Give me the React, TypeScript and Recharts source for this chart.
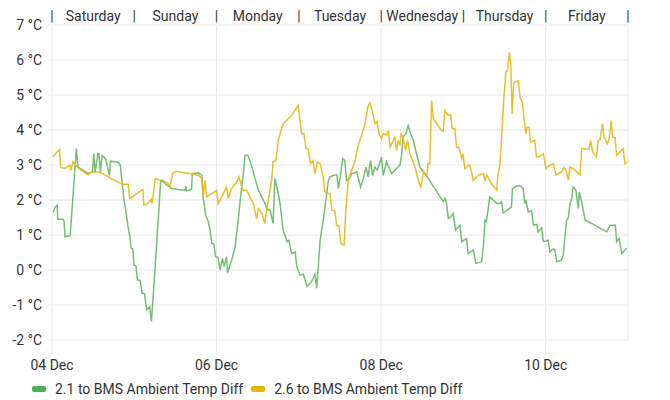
import React from "react";
import { LineChart, Line, XAxis, YAxis, CartesianGrid } from "recharts";

// hours since 04 Dec 00:00, value in °C
const greenSeries: [number, number][] = [
  [0.3, 1.66], [1.0, 1.8], [1.5, 1.85], [1.7, 1.45], [3.2, 1.45], [3.5, 1.4], [3.8, 0.95], [5.3, 0.98],
  [7.1, 3.47], [7.6, 2.94], [10.5, 2.76], [11.8, 2.8], [12.2, 3.32], [12.6, 2.8], [13.4, 3.32], [13.7, 3.32],
  [14.1, 2.8], [14.6, 3.27], [15.4, 3.2], [15.7, 3.15], [16.8, 2.7], [17.0, 3.11], [19.2, 3.08], [19.9, 3.0],
  [20.4, 2.56], [21.0, 2.0], [21.4, 1.77], [22.2, 1.23], [22.7, 0.95], [23.1, 0.62], [23.6, 0.6], [23.9, 0.14],
  [24.5, 0.12], [24.9, -0.28], [25.7, -0.3], [26.3, -0.66], [27.0, -0.68], [27.6, -1.14], [28.5, -1.05],
  [29.0, -1.47], [29.9, -0.19], [30.9, 1.33], [31.7, 2.52], [32.1, 2.56], [33.2, 2.45], [34.9, 2.33],
  [36.8, 2.3], [38.8, 2.28], [39.0, 2.4], [39.2, 2.26], [40.7, 2.3], [40.9, 2.75], [42.6, 2.78], [43.7, 2.7],
  [44.1, 2.09], [44.8, 1.57], [45.6, 1.38], [46.1, 1.14], [46.6, 0.76], [47.2, 0.74], [47.7, 0.38], [48.4, 0.36],
  [49.0, 0.0], [49.7, 0.33], [50.2, 0.1], [50.9, 0.38], [51.2, -0.08], [52.4, 0.28], [53.4, 0.66], [54.2, 1.33],
  [55.1, 2.18], [55.8, 2.75], [56.3, 3.28], [57.1, 3.28], [58.2, 2.99], [59.2, 2.61], [60.2, 2.28], [61.2, 2.09],
  [62.1, 1.9], [62.6, 1.76], [63.6, 1.7], [64.5, 1.33], [65.0, 2.61], [65.8, 2.28], [66.5, 1.9], [67.4, 1.14],
  [68.6, 0.81], [69.1, 0.85], [69.9, 0.47], [70.9, 0.52], [71.4, 0.1], [72.3, -0.14], [73.3, -0.12],
  [74.4, -0.47], [75.7, -0.33], [76.7, -0.12], [77.2, -0.52], [78.2, 0.85], [79.1, 1.42], [79.9, 2.0],
  [80.6, 2.56], [81.1, 2.66], [82.0, 2.7], [83.1, 2.72], [83.5, 2.33], [84.0, 2.61], [84.8, 3.18], [85.4, 3.13],
  [85.9, 2.56], [86.7, 2.61], [87.4, 2.75], [88.9, 2.8], [90.0, 2.37], [90.8, 2.61], [91.6, 2.94], [92.2, 2.66],
  [92.9, 3.13], [93.5, 2.7], [94.2, 2.94], [94.9, 2.85], [96.1, 3.23], [96.6, 2.7], [97.6, 3.09], [99.1, 2.75],
  [100.0, 2.85], [101.5, 3.0], [102.0, 3.32], [102.4, 3.8], [103.2, 3.89], [103.9, 4.13], [104.4, 3.95],
  [105.4, 3.7], [106.3, 3.32], [107.3, 2.94], [108.8, 2.76], [110.7, 2.47], [112.6, 2.18], [114.1, 1.95],
  [114.6, 2.05], [115.0, 1.95], [115.6, 1.47], [116.6, 1.55], [117.0, 1.61], [117.7, 1.14], [119.0, 1.28],
  [119.5, 0.81], [120.9, 0.9], [121.4, 0.47], [122.9, 0.57], [123.6, 0.19], [125.3, 0.24], [125.8, 0.66],
  [126.3, 1.42], [126.7, 1.38], [127.7, 2.09], [129.7, 1.9], [130.6, 1.9], [131.1, 1.95], [131.6, 1.63],
  [132.4, 1.68], [134.0, 1.8], [134.3, 2.33], [135.5, 2.4], [136.7, 2.4], [137.4, 2.33], [137.9, 1.9],
  [138.2, 2.0], [138.9, 1.66], [139.9, 1.7], [140.4, 1.28], [141.4, 1.3], [141.8, 1.09], [142.8, 1.2],
  [143.3, 0.81], [144.7, 0.85], [145.2, 0.52], [146.2, 0.6], [146.7, 0.57], [147.2, 0.24], [148.6, 0.28],
  [149.1, 0.43], [149.6, 0.95], [150.1, 1.42], [150.6, 1.5], [151.1, 1.9], [151.6, 2.05], [152.0, 2.37],
  [152.8, 2.28], [153.5, 1.76], [153.8, 2.23], [154.5, 1.95], [155.5, 1.42], [157.4, 1.33], [159.9, 1.19],
  [161.8, 1.09], [162.8, 1.28], [164.3, 1.28], [164.7, 0.81], [165.4, 0.9], [166.2, 0.47], [166.9, 0.55],
  [167.6, 0.62],
];

const yellowSeries: [number, number][] = [
  [0.3, 3.23], [1.0, 3.32], [2.2, 3.44], [2.5, 2.94], [3.7, 2.9], [4.5, 2.95], [5.2, 2.99], [5.5, 2.85],
  [6.1, 3.09], [6.6, 3.02], [8.5, 2.85], [10.5, 2.71], [11.5, 2.8], [13.4, 2.8], [14.9, 2.75], [17.3, 2.61],
  [19.2, 2.52], [20.4, 2.45], [22.2, 2.45], [22.7, 2.04], [24.1, 2.14], [26.5, 2.3], [26.8, 1.85], [28.0, 1.9],
  [28.9, 2.02], [29.2, 1.9], [30.1, 2.61], [31.2, 2.58], [32.4, 2.56], [33.8, 2.47], [34.4, 2.37], [35.2, 2.77],
  [36.4, 2.82], [38.5, 2.78], [40.7, 2.75], [42.7, 2.71], [43.7, 2.61], [44.1, 2.09], [44.6, 2.56], [45.1, 2.09],
  [48.0, 2.28], [48.5, 1.9], [50.9, 2.37], [51.4, 2.04], [52.4, 2.33], [53.9, 2.52], [54.5, 2.66], [55.1, 2.47],
  [55.5, 2.28], [56.8, 2.28], [57.7, 2.09], [58.7, 1.9], [59.7, 1.47], [60.2, 1.76], [61.2, 1.61], [62.1, 1.33],
  [62.6, 1.71], [63.6, 2.28], [64.1, 2.61], [64.5, 3.09], [65.3, 3.12], [66.0, 3.7], [66.8, 3.99], [67.5, 4.18],
  [68.4, 4.27], [69.9, 4.42], [71.8, 4.7], [72.8, 3.89], [73.5, 3.89], [74.1, 3.47], [74.7, 3.45], [75.4, 3.04],
  [76.1, 3.12], [76.7, 2.75], [77.4, 3.09], [78.2, 3.04], [79.1, 2.66], [79.6, 2.23], [81.1, 2.18], [81.6, 1.71],
  [82.5, 1.7], [83.0, 1.28], [83.7, 1.25], [84.2, 0.76], [85.2, 0.71], [85.6, 1.57], [86.4, 2.56], [87.4, 2.85],
  [88.4, 3.13], [89.3, 3.56], [90.3, 3.85], [91.3, 4.18], [92.2, 4.7], [92.7, 4.77], [93.5, 4.51], [94.2, 4.18],
  [94.8, 4.25], [95.4, 3.89], [96.1, 3.75], [96.6, 3.89], [97.6, 3.85], [98.1, 3.99], [98.6, 3.51], [100.0, 3.8],
  [100.5, 3.42], [101.0, 3.7], [101.5, 3.55], [101.8, 3.89], [102.4, 3.8], [103.1, 3.42], [103.7, 3.7],
  [104.4, 3.32], [105.9, 2.94], [106.8, 2.56], [107.6, 2.37], [108.3, 2.8], [109.3, 2.7], [109.7, 3.04],
  [110.2, 3.04], [110.7, 4.84], [111.2, 4.32], [112.6, 4.13], [113.6, 3.99], [114.1, 3.97], [114.6, 4.56],
  [115.6, 4.42], [116.3, 4.44], [116.7, 4.04], [117.5, 4.04], [118.0, 3.51], [118.7, 3.51], [119.5, 3.18],
  [119.9, 3.32], [120.4, 2.9], [121.4, 2.99], [121.9, 2.99], [122.9, 2.56], [124.3, 2.71], [125.8, 2.75],
  [126.3, 2.56], [126.8, 2.71], [128.2, 2.47], [129.7, 2.28], [130.1, 2.75], [130.6, 2.99], [131.1, 3.7],
  [131.8, 4.94], [132.4, 5.65], [132.8, 5.68], [133.4, 6.22], [133.8, 5.89], [134.2, 4.46], [134.7, 5.36],
  [136.0, 5.41], [136.5, 4.94], [137.3, 4.75], [137.6, 4.37], [138.2, 3.89], [138.6, 4.08], [139.1, 4.08],
  [139.6, 3.66], [140.8, 3.7], [141.3, 3.23], [142.3, 3.25], [143.3, 3.32], [144.1, 2.9], [145.2, 2.99],
  [146.2, 3.04], [147.0, 2.71], [147.7, 2.75], [148.6, 2.8], [149.3, 2.93], [149.9, 2.85], [150.6, 2.56],
  [151.1, 2.94], [152.0, 2.9], [154.0, 2.71], [154.5, 3.47], [156.0, 3.45], [156.7, 3.47], [157.1, 3.7],
  [157.7, 3.37], [158.8, 3.23], [159.3, 3.7], [159.8, 3.72], [160.6, 4.18], [161.0, 3.8], [162.0, 3.61],
  [162.5, 3.75], [163.1, 4.27], [163.5, 3.8], [164.2, 3.78], [164.7, 3.28], [165.7, 3.38], [166.6, 3.47],
  [167.1, 3.04], [167.8, 3.09],
];

const dayNames = ["Saturday", "Sunday", "Monday", "Tuesday", "Wednesday", "Thursday", "Friday"];
const dateTicks = [0, 48, 96, 144];
const dateLabels = ["04 Dec", "06 Dec", "08 Dec", "10 Dec"];
const yTicks = [-2, -1, 0, 1, 2, 3, 4, 5, 6, 7];
const seriesNames = ["2.1 to BMS Ambient Temp Diff", "2.6 to BMS Ambient Temp Diff"];
const seriesColors = ["#5cb35c", "#e6b818"];
const legendColors = ["#4caf50", "#e5b700"];

const FONT = "Roboto, sans-serif";
const GRID = "#e6e6e6";

const greenData = greenSeries.map(([t, v]) => ({ t, v }));
const yellowData = yellowSeries.map(([t, v]) => ({ t, v }));
const topTicks = Array.from({ length: 15 }, (_, i) => i * 12);

const renderTopTick = (props: any) => {
  const { x, payload } = props;
  const t = payload.value;
  const label = t % 24 === 0 ? "|" : dayNames[Math.floor(t / 24)];
  return (
    <text key={`top-${t}`} x={x} y={21} textAnchor="middle" fontSize={14} fill="#333" fontFamily={FONT}>
      {label}
    </text>
  );
};

export default function App() {
  return (
    <div style={{ position: "absolute", left: 0, top: 0, width: 670, height: 400, background: "#fff" }}>
      <LineChart width={670} height={400} margin={{ top: 0, right: 42, bottom: 30, left: 0 }}>
        <CartesianGrid stroke={GRID} />
        <XAxis
          dataKey="t"
          type="number"
          domain={[0, 168]}
          ticks={dateTicks}
          tickFormatter={(v: number) => dateLabels[dateTicks.indexOf(v)]}
          axisLine={false}
          tickLine={{ stroke: GRID }}
          tickSize={15}
          tickMargin={5}
          height={30}
          tick={{ fontSize: 14, fill: "#333", fontFamily: FONT }}
          interval={0}
        />
        <XAxis
          xAxisId="top"
          orientation="top"
          dataKey="t"
          type="number"
          domain={[0, 168]}
          ticks={topTicks}
          axisLine={false}
          tickLine={false}
          height={25}
          tick={renderTopTick}
          interval={0}
        />
        <YAxis
          type="number"
          domain={[-2, 7]}
          ticks={yTicks}
          tickFormatter={(v: number) => `${v} °C`}
          axisLine={false}
          tickLine={{ stroke: GRID }}
          tickSize={4}
          tickMargin={6}
          width={52}
          tick={{ fontSize: 14, fill: "#333", fontFamily: FONT }}
          interval={0}
        />
        <Line
          data={greenData}
          dataKey="v"
          type="linear"
          stroke={seriesColors[0]}
          strokeWidth={1.5}
          strokeOpacity={0.85}
          dot={false}
          isAnimationActive={false}
          name={seriesNames[0]}
        />
        <Line
          xAxisId="top"
          data={yellowData}
          dataKey="v"
          type="linear"
          stroke={seriesColors[1]}
          strokeWidth={1.5}
          strokeOpacity={0.9}
          dot={false}
          isAnimationActive={false}
          name={seriesNames[1]}
        />
      </LineChart>
      <div
        style={{
          position: "absolute",
          left: 32,
          top: 381,
          display: "flex",
          alignItems: "center",
          fontFamily: FONT,
          fontSize: 14,
          color: "#333",
          whiteSpace: "nowrap",
        }}
      >
        {seriesNames.map((n, i) => (
          <span key={n} style={{ display: "flex", alignItems: "center", marginRight: 8 }}>
            <span
              style={{
                display: "inline-block",
                width: 14,
                height: 6,
                borderRadius: 2,
                background: legendColors[i],
                marginRight: 9,
              }}
            />
            {n}
          </span>
        ))}
      </div>
    </div>
  );
}
